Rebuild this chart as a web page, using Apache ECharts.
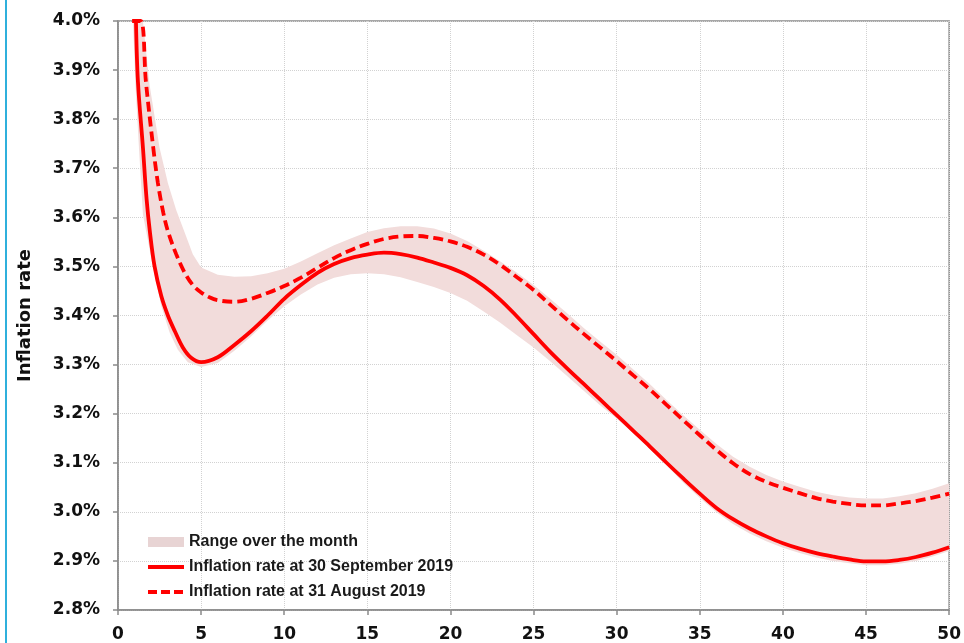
<!DOCTYPE html>
<html>
<head>
<meta charset="utf-8">
<script src="https://cdn.jsdelivr.net/npm/echarts@6/dist/echarts.min.js"></script>
<style>
html,body{margin:0;padding:0;background:#fff;overflow:hidden;}
#chart{width:964px;height:643px;}
</style>
</head>
<body>
<div id="chart"></div>
<script>
// Inflation rate at 30 September 2019 (solid)
const sepX = [1.08,1.2,1.5,1.72,1.92,2.2,2.6,3.0,3.42,3.9,4.4,5,6,7,8,9,10,11,12,13,14,15,16,17,18,19,20,21,22,23,24,25,26,27,28,29,30,31,32,33,34,35,36,37,38,39,40,41,42,43,44,45,46,47,48,49,50];
const sepY = [4.0,3.876,3.742,3.637,3.57,3.5,3.44,3.40,3.368,3.335,3.314,3.305,3.315,3.34,3.368,3.40,3.434,3.462,3.487,3.505,3.517,3.524,3.528,3.525,3.518,3.508,3.497,3.482,3.46,3.432,3.398,3.362,3.326,3.293,3.261,3.229,3.197,3.165,3.133,3.10,3.068,3.037,3.008,2.985,2.966,2.95,2.936,2.925,2.916,2.909,2.903,2.899,2.899,2.902,2.908,2.917,2.928];
// Inflation rate at 31 August 2019 (dashed)
const augX = [0.85,1.36,1.68,2.12,2.4,2.72,3.0,3.5,4.0,4.5,5,5.5,6,7,8,9,10,11,12,13,14,15,16,17,18,19,20,21,22,23,24,25,26,27,28,29,30,31,32,33,34,35,36,37,38,39,40,41,42,43,44,45,46,47,48,49,50];
const augY = [4.0,4.0,3.876,3.742,3.67,3.61,3.572,3.525,3.488,3.462,3.447,3.437,3.431,3.428,3.434,3.446,3.46,3.477,3.497,3.517,3.533,3.546,3.556,3.561,3.562,3.558,3.551,3.54,3.524,3.503,3.478,3.452,3.422,3.392,3.363,3.335,3.307,3.278,3.249,3.218,3.187,3.156,3.126,3.099,3.077,3.061,3.049,3.038,3.028,3.021,3.016,3.013,3.013,3.017,3.022,3.029,3.037];
// Range over the month: lower and upper bounds
const lowX = [0.9,1.05,1.26,1.5,2.1,2.6,3.1,3.6,4.2,5,6,7,8,9,10,11,12,13,14,15,16,17,18,19,20,21,22,23,24,25,26,27,28,29,30,31,32,33,34,35,36,37,38,39,40,41,42,43,44,45,46,47,48,49,50];
const lowY = [4.0,3.87,3.742,3.606,3.5,3.42,3.366,3.33,3.305,3.295,3.303,3.328,3.357,3.39,3.419,3.443,3.463,3.477,3.484,3.486,3.484,3.478,3.468,3.458,3.446,3.43,3.408,3.385,3.36,3.335,3.307,3.277,3.247,3.217,3.19,3.16,3.128,3.095,3.06,3.028,2.999,2.975,2.956,2.94,2.927,2.916,2.907,2.90,2.895,2.891,2.891,2.894,2.90,2.909,2.92];
const highX = [1.5,1.9,2.5,3.0,3.5,4.0,4.5,5,6,7,8,9,10,11,12,13,14,15,16,17,18,19,20,21,22,23,24,25,26,27,28,29,30,31,32,33,34,35,36,37,38,39,40,41,42,43,44,45,46,47,48,49,50];
const highY = [4.0,3.87,3.742,3.67,3.615,3.57,3.525,3.498,3.483,3.479,3.48,3.486,3.495,3.51,3.527,3.543,3.557,3.57,3.578,3.582,3.582,3.577,3.567,3.552,3.532,3.51,3.487,3.462,3.434,3.405,3.375,3.347,3.32,3.29,3.26,3.228,3.197,3.167,3.138,3.112,3.092,3.075,3.062,3.051,3.041,3.034,3.029,3.027,3.027,3.032,3.038,3.047,3.058];
const xTicks = {min: 0, max: 50, interval: 5};
const yTicks = {min: 2.8, max: 4.0, interval: 0.1};
const legendNames = ['Range over the month', 'Inflation rate at 30 September 2019', 'Inflation rate at 31 August 2019'];

const zip = (xs, ys) => xs.map((x, i) => [x, ys[i]]);
const chart = echarts.init(document.getElementById('chart'), null, {renderer: 'canvas'});
const tickFont = {fontFamily: 'DejaVu Sans', fontWeight: 'bold', fontSize: 17, color: '#111'};
const hiddenSymbol = {color: 'rgba(0,0,0,0)', opacity: 0, borderWidth: 0};

chart.setOption({
  animation: false,
  backgroundColor: '#fff',
  graphic: [{type: 'rect', shape: {x: 5, y: 0, width: 2, height: 643}, style: {fill: '#2fb0dc'}}],
  grid: {left: 118, right: 11, top: 21, bottom: 31, show: true, borderColor: '#8a8a8a', borderWidth: 1.5},
  legend: {
    orient: 'vertical', left: 141, top: 528,
    itemWidth: 36, itemHeight: 10, itemGap: 7,
    textStyle: {fontFamily: 'Liberation Sans', fontWeight: 'bold', fontSize: 16, color: '#1a1a1a', lineHeight: 18},
    data: [
      {name: legendNames[0], icon: 'rect', itemStyle: {color: '#e8d4d4'}},
      {name: legendNames[1], itemStyle: hiddenSymbol, lineStyle: {width: 4}},
      {name: legendNames[2], itemStyle: hiddenSymbol, lineStyle: {width: 4, type: [9, 4]}}
    ]
  },
  xAxis: {
    type: 'value', min: xTicks.min, max: xTicks.max, interval: xTicks.interval,
    axisLine: {lineStyle: {color: '#8a8a8a', width: 1.5}},
    axisTick: {show: true, inside: false, length: 5, lineStyle: {color: '#8a8a8a', width: 1.5}},
    axisLabel: Object.assign({margin: 16}, tickFont),
    splitLine: {show: true, lineStyle: {color: '#d2d2d2', type: 'dotted', width: 1}}
  },
  yAxis: {
    type: 'value', min: yTicks.min, max: yTicks.max, interval: yTicks.interval,
    name: 'Inflation rate', nameLocation: 'middle', nameGap: 84, nameRotate: 90,
    nameTextStyle: {fontFamily: 'DejaVu Sans', fontWeight: 'bold', fontSize: 18, color: '#111'},
    axisLine: {show: true, lineStyle: {color: '#8a8a8a', width: 1.5}},
    axisTick: {show: true, inside: false, length: 5, lineStyle: {color: '#8a8a8a', width: 1.5}},
    axisLabel: Object.assign({margin: 18, formatter: v => v.toFixed(1) + '%'}, tickFont),
    splitLine: {show: true, lineStyle: {color: '#d2d2d2', type: 'dotted', width: 1}}
  },
  series: [
    {
      name: legendNames[0], type: 'custom', z: 1,
      itemStyle: {color: '#e8d4d4'},
      data: [[25, 3.4]],
      renderItem: function (params, api) {
        const pts = zip(lowX, lowY).map(p => api.coord(p))
          .concat(zip(highX, highY).reverse().map(p => api.coord(p)));
        return {type: 'polygon', shape: {points: pts}, style: {fill: '#f2dcdb', stroke: null}};
      }
    },
    {
      name: legendNames[1], type: 'line', z: 3, smooth: 0.35, symbol: 'none',
      data: zip(sepX, sepY),
      lineStyle: {color: '#ff0000', width: 3.8},
      itemStyle: {color: '#ff0000'}
    },
    {
      name: legendNames[2], type: 'line', z: 3, smooth: 0.35, symbol: 'none',
      data: zip(augX, augY),
      lineStyle: {color: '#ff0000', width: 3.8, type: [10, 5]},
      itemStyle: {color: '#ff0000'}
    }
  ]
});
</script>
</body>
</html>
